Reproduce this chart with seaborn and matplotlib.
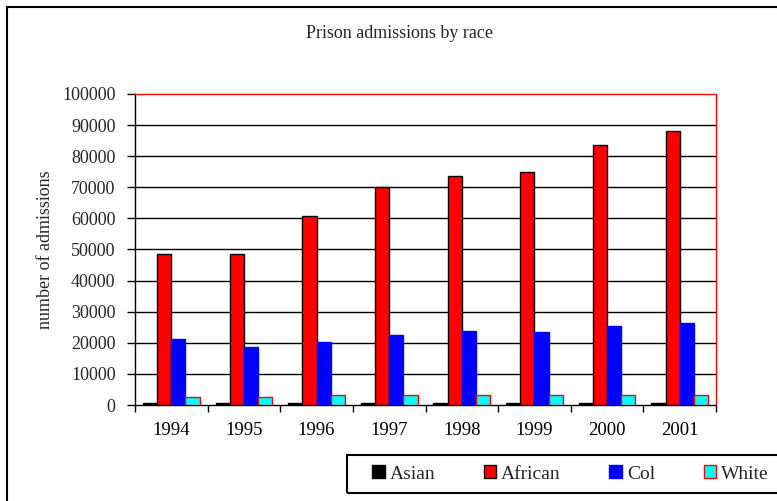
import matplotlib
matplotlib.use("Agg")
import matplotlib.pyplot as plt
import seaborn as sns
import pandas as pd
import numpy as np
from matplotlib.patches import Rectangle

years = ["1994", "1995", "1996", "1997", "1998", "1999", "2000", "2001"]
asian = [500, 500, 500, 500, 500, 500, 500, 500]
african = [48500, 48500, 60800, 70100, 73700, 74900, 83600, 88200]
col = [21300, 18800, 20200, 22400, 23900, 23400, 25500, 26400]
white = [2600, 2600, 3100, 3100, 3200, 3200, 3200, 3200]
races = ["Asian", "African", "Col", "White"]
y_ticks = list(range(0, 100001, 10000))

sns.set_theme(style="white")
plt.rcParams["font.family"] = ["Liberation Serif", "DejaVu Serif"]

rows = []
for race, vals in zip(races, [asian, african, col, white]):
    for y, v in zip(years, vals):
        rows.append({"year": y, "race": race, "value": v})
df = pd.DataFrame(rows)

face = {"Asian": "#000000", "African": "#ff0000", "Col": "#0000ff", "White": "#00ffff"}
edge = {"Asian": "#000000", "African": "#000000", "Col": "#0000ff", "White": "#ff0000"}

fig = plt.figure(figsize=(7.77, 5.01), dpi=100)
ax = fig.add_axes([135/777, 1-405/501, (716-135)/777, (405-94)/501])

sns.barplot(data=df, x="year", y="value", hue="race", hue_order=races,
            palette=face, width=0.78, ax=ax, saturation=1, legend=False, zorder=3)

for cont, r in zip(ax.containers, races):
    for p in cont:
        p.set_edgecolor(edge[r])
        p.set_linewidth(1.0)

ax.set_ylim(0, 100000)
ax.set_xlim(-0.5, 7.5)
ax.set_yticks(y_ticks)
ax.set_yticklabels([str(t) for t in y_ticks], fontsize=13)
ax.set_xticks(range(len(years)))
ax.set_xticklabels(years, fontsize=13.5)
ax.set_xticks(np.arange(-0.5, 8, 1), minor=True)
ax.tick_params(axis="x", which="major", length=0, pad=12, colors="black")
ax.tick_params(axis="x", which="minor", length=5, width=1, color="black", direction="out", bottom=True)
ax.tick_params(axis="y", length=6, width=1, color="black", direction="out", left=True, pad=8)
ax.set_xlabel("")
ax.set_ylabel("")

for t in y_ticks[1:-1]:
    ax.axhline(t, color="black", linewidth=1, zorder=1)

ax.spines["left"].set_color("black")
ax.spines["bottom"].set_color("black")
ax.spines["top"].set_color("#ff0000")
ax.spines["right"].set_color("#ff0000")
for s in ax.spines.values():
    s.set_linewidth(1)
    s.set_visible(True)

fig.text(400/777, 1-33/501, "Prison admissions by race", ha="center", va="center", fontsize=13)
fig.text(45.5/777, 1-250/501, "number of admissions", ha="center", va="center",
         rotation=90, fontsize=13)

# outer chart frame
fig.patches.append(Rectangle((7/777, -0.1), 1.2, 1-7/501+0.1, transform=fig.transFigure,
                             fill=False, edgecolor="black", linewidth=1.5))
# legend frame
fig.patches.append(Rectangle((347/777, 1-493/501), 0.6, 38/501, transform=fig.transFigure,
                             fill=False, edgecolor="black", linewidth=1.5))

handles = list(ax.containers)
leg = fig.legend(handles, races, loc="center left", bbox_to_anchor=(372/777, 1-474/501),
                 ncol=4, frameon=False, fontsize=14, handlelength=0.65, handleheight=0.65,
                 handletextpad=0.25, columnspacing=2.5, borderpad=0, borderaxespad=0)

fig.savefig("out.png", dpi=100)
